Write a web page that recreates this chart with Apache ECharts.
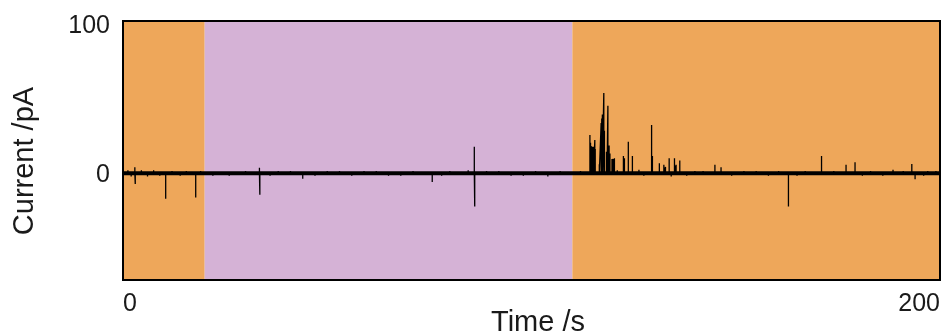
<!DOCTYPE html>
<html>
<head>
<meta charset="utf-8">
<script src="https://cdn.jsdelivr.net/npm/echarts@6/dist/echarts.min.js"></script>
<style>
  html, body { margin: 0; padding: 0; background: #fff; }
  #chart { width: 944px; height: 336px; }
</style>
</head>
<body>
<div id="chart"></div>
<script>
// Axis ranges and labelled ticks
const timeRange = [0, 200];
const currentRange = [-70, 100];
const timeTicks = [0, 200];
const currentTicks = [0, 100];

// Recording phases (s): buffer / analyte / buffer
const phaseBounds = [0, 20, 110, 200];
const phaseKind = ['buffer', 'analyte', 'buffer'];

// Baseline current level (pA)
const baselineLevel = 0;

// Current events: time (s) and peak amplitude (pA)
const eventTimes = [
  1.2, 2.0, 2.9, 3.0, 4.5, 6.0, 7.5, 9.0, 10.45, 12.0, 14.0, 15.5, 17.8, 19.0,
  22.0, 26.0, 30.0, 33.4, 33.5, 36.0, 38.0, 41.0, 44.0, 47.0, 50.0, 53.0, 56.0,
  59.0, 62.0, 65.0, 68.0, 71.0, 75.7, 78.0, 80.0, 84.5, 86.0, 86.1, 89.0, 92.0,
  95.0, 98.0, 101.0, 104.0, 107.0,
  112.0, 114.3, 114.45, 114.6, 114.75, 114.9, 115.05, 115.2, 115.5, 115.6,
  116.6, 117.05, 117.2, 117.35, 117.7, 117.85, 118.35, 118.5, 118.7, 118.85,
  119.0, 119.2, 119.7, 119.95, 120.3, 121.0, 122.5, 122.75, 123.7, 124.7,
  126.3, 127.5, 129.4, 129.6, 131.3, 132.4, 132.8, 133.7, 134.2, 135.0,
  135.4, 136.3, 138.0, 140.0, 142.0, 144.9, 146.4, 149.0, 152.0, 155.0, 158.0,
  160.5, 162.9, 165.0, 167.0, 171.0, 174.0, 177.0, 179.2, 181.0, 183.0, 186.0,
  188.5, 191.0, 193.1, 193.9, 196.0, 197.0, 199.0
];
const eventAmps = [
  2.0, -2.0, 4.0, -7.0, 2.0, -2.0, 2.0, -1.5, -16.7, 1.5, -1.5, 1.5, -15.8, 1.5,
  -1.5, -1.5, 1.5, 3.6, -14.0, -1.5, 1.5, 1.5, -3.6, -1.5, 1.5, 1.5, -1.5,
  1.5, 1.5, -1.5, -1.5, 1.5, -5.6, -1.5, 1.5, 2.0, 17.5, -21.7, 1.5, 1.5,
  -1.5, -1.5, 1.5, -2.0, 1.5,
  1.5, 25.2, 20.1, 18.0, 17.5, 17.5, 17.0, 17.5, 21.9, 16.0,
  6.0, 33.0, 36.0, 38.7, 52.8, 28.0, 14.2, 13.0, 44.3, 14.0,
  18.2, 13.0, 9.5, 9.5, 9.9, 2.0, 11.4, 9.9, 20.8, 11.4,
  2.3, -1.5, 31.7, 11.4, 6.7, 5.6, 4.2, 9.9, -2.0, 9.9,
  5.6, 8.4, -1.5, 1.5, 1.5, 5.6, 4.0, -1.5, 1.5, 1.5, -1.5,
  1.5, -21.7, -1.5, 1.5, 11.4, 1.5, 5.6, 7.3, -1.5, 1.5, -1.5,
  2.3, 1.5, 6.2, -3.8, -1.5, 1.5, 1.5
];

// Build the trace: each event is a vertical excursion from the baseline
const trace = [[timeRange[0], baselineLevel]];
eventTimes.forEach((t, i) => {
  trace.push([t, baselineLevel], [t, eventAmps[i]], [t, baselineLevel]);
});
trace.push([timeRange[1], baselineLevel]);

const phaseColor = { buffer: '#EEA75A', analyte: '#D5B2D6' };
const phaseAreas = phaseKind.map((k, i) => [
  { xAxis: phaseBounds[i], itemStyle: { color: phaseColor[k] } },
  { xAxis: phaseBounds[i + 1] }
]);

const FONT = '"Liberation Sans", Arial, sans-serif';
const INK = '#1a1a1a';
const chart = echarts.init(document.getElementById('chart'), null, { renderer: 'canvas' });

chart.setOption({
  animation: false,
  backgroundColor: '#ffffff',
  grid: {
    left: 123, right: 4, top: 21, bottom: 56,
    show: true, z: 10,
    backgroundColor: 'transparent',
    borderColor: '#000', borderWidth: 2
  },
  xAxis: {
    type: 'value',
    min: timeRange[0], max: timeRange[1],
    axisLine: { show: false },
    axisTick: { show: false },
    splitLine: { show: false },
    axisLabel: {
      customValues: timeTicks,
      fontFamily: FONT, fontSize: 25, color: INK,
      margin: 12,
      alignMinLabel: 'left', alignMaxLabel: 'right'
    }
  },
  yAxis: {
    type: 'value',
    min: currentRange[0], max: currentRange[1],
    axisLine: { show: false },
    axisTick: { show: false },
    splitLine: { show: false },
    axisLabel: {
      customValues: currentTicks,
      fontFamily: FONT, fontSize: 25, color: INK,
      margin: 13,
      formatter: v => (v === currentRange[1] ? '{top|' + v + '}' : '{mid|' + v + '}'),
      rich: {
        top: { fontFamily: FONT, fontSize: 25, color: INK, padding: [11, 0, 0, 0] },
        mid: { fontFamily: FONT, fontSize: 25, color: INK, padding: [3, 0, 0, 0] }
      }
    }
  },
  graphic: [
    {
      type: 'text', x: 25, y: 161, rotation: Math.PI / 2,
      style: { text: 'Current /pA', font: '29px ' + FONT, fill: INK, align: 'center', verticalAlign: 'middle' }
    },
    {
      type: 'text', x: 538, y: 323,
      style: { text: 'Time /s', font: '29px ' + FONT, fill: INK, align: 'center', verticalAlign: 'middle' }
    }
  ],
  series: [
    {
      name: 'phases', type: 'line', data: [], z: 0,
      markArea: { silent: true, data: phaseAreas }
    },
    {
      name: 'baseline', type: 'line', z: 2, symbol: 'none',
      data: [[timeRange[0], baselineLevel], [timeRange[1], baselineLevel]],
      lineStyle: { color: '#000', width: 4 }
    },
    {
      name: 'current', type: 'line', z: 3, symbol: 'none',
      data: trace,
      lineStyle: { color: '#000', width: 1.3 }
    }
  ]
});
</script>
</body>
</html>
